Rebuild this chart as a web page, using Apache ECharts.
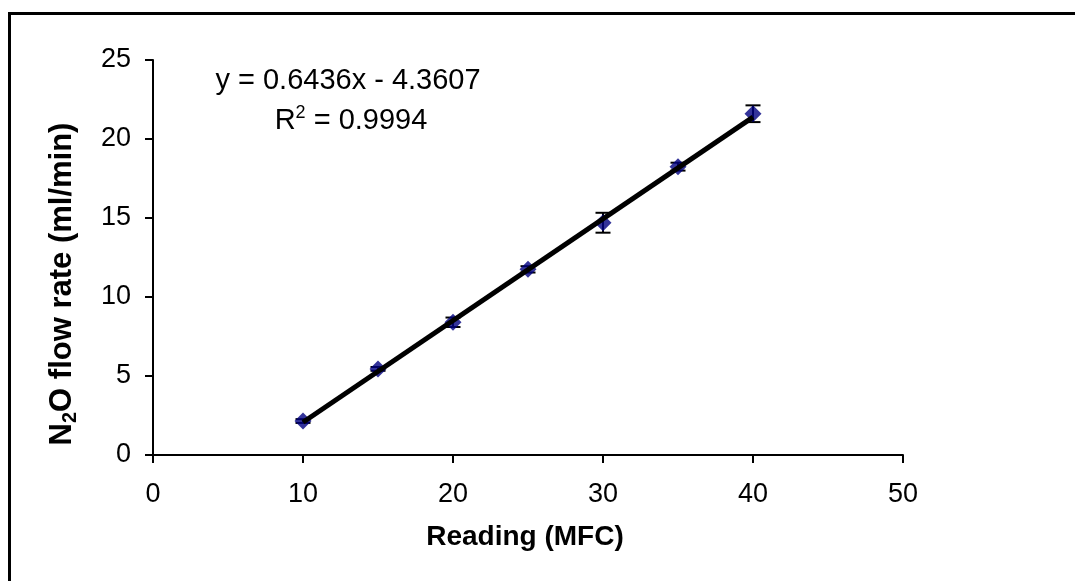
<!DOCTYPE html>
<html>
<head>
<meta charset="utf-8">
<script src="https://cdn.jsdelivr.net/npm/echarts@6/dist/echarts.min.js"></script>
<style>
  html, body { margin: 0; padding: 0; background: #fff; }
  #chart { width: 1075px; height: 581px; }
</style>
</head>
<body>
<div id="chart"></div>
<script>
// MFC calibration for N2O: set-point reading vs measured flow
const readings   = [10, 15, 20, 25, 30, 35, 40];
const flowRates  = [2.15, 5.45, 8.4, 11.75, 14.7, 18.25, 21.6];
const flowErrors = [0.12, 0.12, 0.3, 0.2, 0.63, 0.25, 0.53];

// Linear least-squares fit shown on the chart
const fitSlope = 0.6436;
const fitIntercept = -4.3607;
const fitR2 = 0.9994;

const xTicks = [0, 10, 20, 30, 40, 50];
const yTicks = [0, 5, 10, 15, 20, 25];

const FONT = "'Liberation Sans', Arial, sans-serif";

const points = readings.map((x, i) => [x, flowRates[i]]);
const errorData = readings.map((x, i) => [x, flowRates[i] - flowErrors[i], flowRates[i] + flowErrors[i]]);
const xFirst = readings[0], xLast = readings[readings.length - 1];
const fitLine = [
  [xFirst, fitSlope * xFirst + fitIntercept],
  [xLast, fitSlope * xLast + fitIntercept]
];

const chart = echarts.init(document.getElementById('chart'), null, { renderer: 'canvas' });

const axisCommon = {
  axisLine: { show: true, onZero: false, lineStyle: { color: '#000', width: 2 } },
  axisTick: { show: true, inside: false, length: 8, lineStyle: { color: '#000', width: 2 } },
  splitLine: { show: false }
};

chart.setOption({
  animation: false,
  backgroundColor: '#fff',
  grid: { left: 153, right: 172, top: 60, bottom: 126, containLabel: false },
  xAxis: Object.assign({
    type: 'value',
    min: xTicks[0],
    max: xTicks[xTicks.length - 1],
    interval: xTicks[1] - xTicks[0],
    axisLabel: { color: '#000', fontSize: 27, fontFamily: FONT, margin: 26 }
  }, axisCommon),
  yAxis: Object.assign({
    type: 'value',
    min: yTicks[0],
    max: yTicks[yTicks.length - 1],
    interval: yTicks[1] - yTicks[0],
    axisLabel: { color: '#000', fontSize: 27, fontFamily: FONT, margin: 22 }
  }, axisCommon),
  series: [
    {
      name: 'error',
      type: 'custom',
      z: 2,
      data: errorData,
      renderItem: function (params, api) {
        const x = api.value(0);
        const lo = api.coord([x, api.value(1)]);
        const hi = api.coord([x, api.value(2)]);
        const hw = 7.5;
        const style = { stroke: '#000', lineWidth: 2 };
        return {
          type: 'group',
          children: [
            { type: 'line', shape: { x1: lo[0], y1: lo[1], x2: hi[0], y2: hi[1] }, style: style },
            { type: 'line', shape: { x1: hi[0] - hw, y1: hi[1], x2: hi[0] + hw, y2: hi[1] }, style: style },
            { type: 'line', shape: { x1: lo[0] - hw, y1: lo[1], x2: lo[0] + hw, y2: lo[1] }, style: style }
          ]
        };
      }
    },
    {
      name: 'N2O flow',
      type: 'scatter',
      z: 3,
      symbol: 'diamond',
      symbolSize: [17, 17],
      itemStyle: { color: '#000080' },
      data: points
    },
    {
      name: 'fit',
      type: 'line',
      z: 4,
      symbol: 'none',
      lineStyle: { color: '#000', width: 5 },
      data: fitLine
    }
  ],
  graphic: [
    {
      type: 'rect',
      silent: true,
      shape: { x: 9.5, y: 13.5, width: 1090, height: 600 },
      style: { fill: 'none', stroke: '#000', lineWidth: 3 }
    },
    {
      type: 'text',
      x: 348, y: 81,
      style: {
        text: 'y = ' + fitSlope + 'x - ' + Math.abs(fitIntercept),
        font: '29px ' + FONT,
        fill: '#000',
        align: 'center',
        verticalAlign: 'middle'
      }
    },
    {
      type: 'text',
      x: 351, y: 121,
      style: {
        text: '{n|R}{p|2}{n| = ' + fitR2 + '}',
        align: 'center',
        verticalAlign: 'middle',
        rich: {
          n: { fontSize: 29, fontFamily: FONT, fill: '#000', color: '#000', lineHeight: 34 },
          p: { fontSize: 18, fontFamily: FONT, fill: '#000', color: '#000', lineHeight: 18, verticalAlign: 'top' }
        }
      }
    },
    {
      type: 'text',
      x: 525, y: 537,
      style: {
        text: 'Reading (MFC)',
        font: 'bold 28px ' + FONT,
        fill: '#000',
        align: 'center',
        verticalAlign: 'middle'
      }
    },
    {
      type: 'text',
      x: 62, y: 284,
      rotation: Math.PI / 2,
      style: {
        text: '{b|N}{s|2}{b|O flow rate (ml/min)}',
        align: 'center',
        verticalAlign: 'middle',
        rich: {
          b: { fontSize: 31, fontWeight: 'bold', fontFamily: FONT, fill: '#000', color: '#000', lineHeight: 36 },
          s: { fontSize: 20, fontWeight: 'bold', fontFamily: FONT, fill: '#000', color: '#000', lineHeight: 20, verticalAlign: 'bottom' }
        }
      }
    }
  ]
});
</script>
</body>
</html>
